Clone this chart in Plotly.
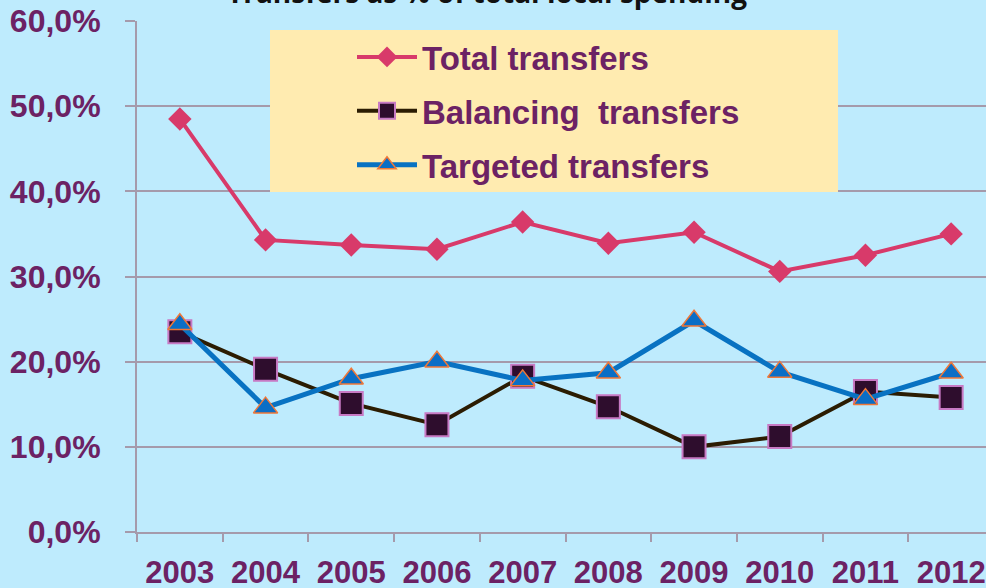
import plotly.graph_objects as go

years = ["2003", "2004", "2005", "2006", "2007", "2008", "2009", "2010", "2011", "2012"]
total_transfers = [48.5, 34.3, 33.7, 33.2, 36.4, 33.9, 35.2, 30.6, 32.5, 35.0]
balancing_transfers = [23.5, 19.1, 15.1, 12.6, 18.3, 14.7, 10.0, 11.2, 16.5, 15.8]
targeted_transfers = [24.4, 14.6, 18.0, 20.0, 17.8, 18.7, 24.8, 18.8, 15.6, 18.7]
y_tick_vals = [0, 10, 20, 30, 40, 50, 60]
y_tick_text = ["0,0%", "10,0%", "20,0%", "30,0%", "40,0%", "50,0%", "60,0%"]
title_text = "Transfers as % of total local spending"

W, H = 986, 588
L, R, T, B = 137, 0, 21, 56
pw = W - L - R
ph = H - T - B

def px_x(p):
    return (p - L) / pw

def px_y(p):
    return (H - B - p) / ph

BG = "#BEEBFD"
GRID = "#A59AAB"
TXT = "#6C2264"
FONT = "Liberation Sans, Arial, sans-serif"

fig = go.Figure()

fig.add_trace(go.Scatter(
    x=years, y=total_transfers, name="Total transfers", mode="lines+markers",
    line=dict(color="#D83A6A", width=4),
    marker=dict(symbol="diamond", size=18, color="#D83A6A", line=dict(width=0)),
    legendgroup="a",
))
fig.add_trace(go.Scatter(
    x=years, y=balancing_transfers, name="Balancing  transfers", mode="lines+markers",
    line=dict(color="#2B1C02", width=4),
    marker=dict(symbol="square", size=23, color="#2E0D2D", line=dict(width=2, color="#C77AC4")),
    legendgroup="b",
))
fig.add_trace(go.Scatter(
    x=years, y=targeted_transfers, name="Targeted transfers", mode="lines+markers",
    line=dict(color="#0872C2", width=5),
    marker=dict(symbol="triangle-up", size=21, color="#0A6EC6", line=dict(width=1.5, color="#F07838")),
    legendgroup="c",
))

fig.add_shape(type="rect", xref="paper", yref="paper",
              x0=px_x(270), x1=px_x(838), y0=px_y(192), y1=px_y(30),
              fillcolor="#FFEBB0", line=dict(width=0), layer="above")

fig.add_annotation(text=title_text, xref="paper", yref="paper",
                   x=px_x(487), y=px_y(-8), xanchor="center", yanchor="middle",
                   showarrow=False,
                   font=dict(family="Open Sans, sans-serif", size=28, color="#111111", weight="bold"))

fig.update_layout(
    width=W, height=H,
    margin=dict(l=L, r=R, t=T, b=B, autoexpand=False),
    paper_bgcolor=BG, plot_bgcolor=BG,
    showlegend=True,
    legend=dict(
        x=px_x(352), y=px_y(29), xanchor="left", yanchor="top",
        bgcolor="rgba(0,0,0,0)", borderwidth=0,
        font=dict(family=FONT, size=33, color=TXT, weight="bold"),
        tracegroupgap=8, itemsizing="trace", itemwidth=60,
    ),
    xaxis=dict(
        type="category", range=[-0.5, (W - L) / 85.7 - 0.5],
        tickson="boundaries", ticks="outside", ticklen=8, tickwidth=2, tickcolor=GRID,
        showline=True, linecolor=GRID, linewidth=2, showgrid=False,
        tickfont=dict(family=FONT, size=31, color=TXT, weight="bold"),
        ticklabelstandoff=12, automargin=False,
    ),
    yaxis=dict(
        range=[0, 60], tickvals=y_tick_vals, ticktext=y_tick_text,
        ticks="outside", ticklen=10, tickwidth=2, tickcolor=GRID,
        showline=True, linecolor=GRID, linewidth=2,
        showgrid=True, gridcolor=GRID, gridwidth=2, zeroline=False,
        tickfont=dict(family=FONT, size=32, color=TXT, weight="bold"),
        ticklabelstandoff=18, automargin=False,
    ),
)

fig.write_html(
    "out.html",
    config={"displayModeBar": False},
    post_script="document.body.style.margin='0';document.body.style.overflow='hidden';",
)
